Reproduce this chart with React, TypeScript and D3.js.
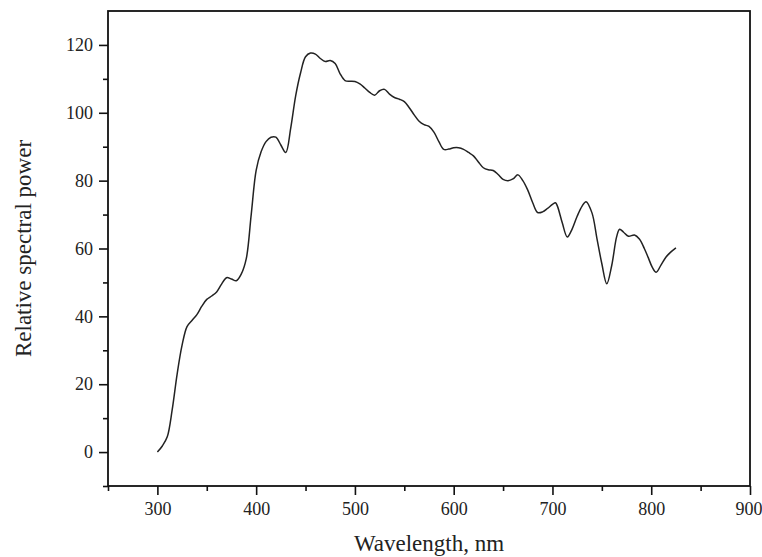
import React, { useRef, useEffect } from "react";
import * as d3 from "d3";

// Wavelength (nm) and relative spectral power
const wavelength = [
  300, 305, 310, 315, 320, 325, 330, 335, 340, 345, 350, 355, 360, 365, 370, 375, 380, 385, 390, 395,
  400, 405, 410, 415, 420, 425, 430, 435, 440, 445, 450, 455, 460, 465, 470, 475, 480, 485, 490, 495,
  500, 505, 510, 515, 520, 525, 530, 535, 540, 545, 550, 555, 560, 565, 570, 575, 580, 585, 590, 595,
  600, 605, 610, 615, 620, 625, 630, 635, 640, 645, 650, 655, 660, 665, 670, 675, 680, 685, 690, 695,
  700, 703, 705, 710, 715, 720, 725, 730, 734, 740, 745, 750, 755, 760, 765, 768, 772, 777, 783, 788,
  793, 797, 801, 805, 810, 815, 820, 825,
];
const power = [
  0, 1.8, 4.5, 12.5, 23, 31.5, 37, 38.8, 40.5, 43, 45, 46, 47.2, 49.5, 51.4, 51, 50.5, 52.5, 57, 70,
  83, 88.5, 91.5, 92.8, 92.8, 90.5, 88.3, 95.5, 105, 111.8, 116.5, 117.6, 117.3, 116, 115.1, 115.4, 114.5, 111.5, 109.5, 109.3,
  109.2, 108.5, 107.3, 106, 105.2, 106.5, 106.9, 105.5, 104.5, 104, 103.3, 101.5, 99.4, 97.5, 96.5, 96, 94.3, 91.5, 89.2, 89.3,
  89.7, 89.7, 89.2, 88.3, 87.3, 85.5, 83.8, 83.2, 83, 81.8, 80.4, 80, 80.5, 81.7, 80, 77.2, 73.5, 70.6, 70.8, 71.8,
  73, 73.5, 72.5, 67.5, 63.4, 65.8, 69.5, 72.5, 73.8, 70.5, 63, 55.5, 49.6, 55, 63.5, 65.7, 64.8, 63.6, 64, 62.8,
  60, 57.3, 54.5, 53, 55.2, 57.5, 59, 60.2,
];

const xMajor = [300, 400, 500, 600, 700, 800, 900];
const xMinor = [250, 350, 450, 550, 650, 750, 850];
const yMajor = [0, 20, 40, 60, 80, 100, 120];
const yMinor = [-10, 10, 30, 50, 70, 90, 110];

const FONT = "'Liberation Serif', 'Times New Roman', serif";

export default function App() {
  const ref = useRef<SVGSVGElement>(null);

  useEffect(() => {
    const svg = d3.select(ref.current);
    svg.selectAll("*").remove();

    const left = 108, right = 750, top = 11, bottom = 486;
    const x = d3.scaleLinear().domain([250, 900]).range([left, right]);
    const y = d3.scaleLinear().domain([-10, 130]).range([bottom, top]);

    // frame
    svg.append("rect")
      .attr("x", left).attr("y", top)
      .attr("width", right - left).attr("height", bottom - top)
      .attr("fill", "none").attr("stroke", "#111").attr("stroke-width", 1.8);

    // bottom axis
    const gx = svg.append("g").attr("transform", `translate(0,${bottom})`);
    gx.call(d3.axisBottom(x).tickValues(xMajor).tickSize(9).tickPadding(7).tickFormat(d3.format("d")));
    gx.append("g").call(d3.axisBottom(x).tickValues(xMinor).tickSize(5).tickFormat(() => ""));

    // left axis
    const gy = svg.append("g").attr("transform", `translate(${left},0)`);
    gy.call(d3.axisLeft(y).tickValues(yMajor).tickSize(9).tickPadding(6).tickFormat(d3.format("d")));
    gy.append("g").call(d3.axisLeft(y).tickValues(yMinor).tickSize(5).tickFormat(() => ""));

    [gx, gy].forEach((g) => g.style("font-family", FONT).style("font-size", "18px"));
    svg.selectAll(".domain").remove();
    svg.selectAll(".tick line").attr("stroke", "#111").attr("stroke-width", 1.6);
    svg.selectAll(".tick text")
      .style("font-family", FONT).style("font-size", "18px").attr("fill", "#222");

    // the last x label sits at the page edge; keep it inside
    gx.selectAll<SVGTextElement, number>(".tick text")
      .filter((d) => d === 900)
      .attr("text-anchor", "end")
      .attr("dx", 12);

    // curve
    const data = wavelength.map((w, i) => [w, power[i]] as [number, number]);
    const line = d3.line<[number, number]>()
      .x((d) => x(d[0]))
      .y((d) => y(d[1]))
      .curve(d3.curveCatmullRom.alpha(0.5));
    svg.append("path")
      .datum(data)
      .attr("d", line)
      .attr("fill", "none")
      .attr("stroke", "#222")
      .attr("stroke-width", 1.5);

    // labels
    svg.append("text")
      .attr("x", (left + right) / 2).attr("y", 551)
      .attr("text-anchor", "middle")
      .style("font-family", FONT).style("font-size", "23px").attr("fill", "#222")
      .text("Wavelength, nm");

    svg.append("text")
      .attr("transform", `translate(31,${(top + bottom) / 2}) rotate(-90)`)
      .attr("text-anchor", "middle")
      .style("font-family", FONT).style("font-size", "23px").attr("fill", "#222")
      .text("Relative spectral power");
  }, []);

  return (
    <svg
      ref={ref}
      width={762}
      height={557}
      style={{ position: "absolute", left: 0, top: 0, background: "#fff" }}
    />
  );
}
